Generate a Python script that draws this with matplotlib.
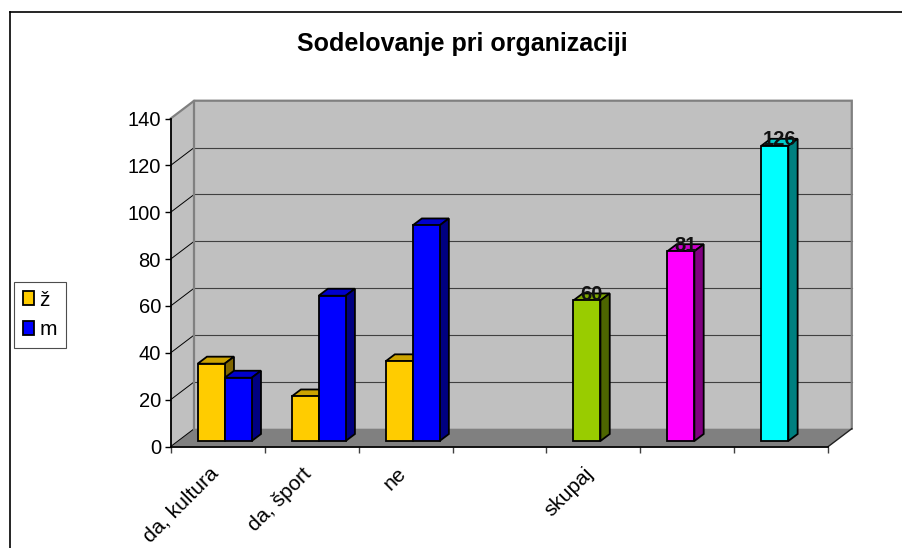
import matplotlib
matplotlib.use("Agg")
from matplotlib import pyplot as plt
from matplotlib.patches import Polygon
from matplotlib.lines import Line2D

# data
categories = ["da, kultura", "da, šport", "ne", "", "skupaj", "", ""]
zenske = [33, 19, 34]
moski = [27, 62, 92]
skupaj = [60, 81, 126]
skupaj_pos = [4, 5, 6]
skupaj_colors = ["#99CC00", "#FF00FF", "#00FFFF"]
yticks = [0, 20, 40, 60, 80, 100, 120, 140]

plt.rcParams["font.family"] = ["Liberation Sans", "DejaVu Sans"]

W, H = 902, 548
fig = plt.figure(figsize=(W / 100, H / 100), dpi=100)

# axes placed so that x 0..7 and y 0..140 land on the reference pixels
x0, x7 = 170.7, 828.3
y0, y140 = 446.5, 118.5
ax = fig.add_axes([x0 / W, 1 - y0 / H, (x7 - x0) / W, (y0 - y140) / H])
ax.set_xlim(0, 7)
ax.set_ylim(0, 140)
ax.patch.set_visible(False)

pxx = (x7 - x0) / 7
pxy = (y0 - y140) / 140
DX, DY = 23.5 / pxx, 17.8 / pxy          # depth of walls / floor
BDX, BDY = 9.3 / pxx, 7.0 / pxy          # depth of one bar
base = 5.5 / pxy                         # bar front bottom above floor edge
bw = 0.2875
n = len(categories)

wall = "#C0C0C0"
edge = "#808080"

# back wall, side wall and floor
ax.add_patch(Polygon([(DX, DY), (n + DX, DY), (n + DX, 140 + DY), (DX, 140 + DY)],
                     closed=True, fc=wall, ec="none", zorder=0.5, clip_on=False))
ax.add_patch(Polygon([(0, 0), (DX, DY), (DX, 140 + DY), (0, 140)],
                     closed=True, fc=wall, ec="none", zorder=0.5, clip_on=False))
ax.add_patch(Polygon([(0, 0), (n, 0), (n + DX, DY), (DX, DY)],
                     closed=True, fc="#808080", ec="none", zorder=0.6, clip_on=False))

for v in yticks[1:-1]:
    ax.plot([DX, n + DX], [v + DY, v + DY], color="#404040", lw=0.8, zorder=0.7, clip_on=False)
for v in yticks[:-1]:
    ax.plot([0, DX], [v, v + DY], color="black", lw=0.7, zorder=0.7, clip_on=False)

# wall outlines
ax.plot([0, DX, n + DX, n + DX], [140, 140 + DY, 140 + DY, DY], color=edge, lw=1.6,
        zorder=0.8, clip_on=False, solid_joinstyle="miter")
ax.plot([DX, DX], [DY, 140 + DY], color=edge, lw=1.6, zorder=0.8, clip_on=False)
ax.plot([n, n + DX], [0, DY], color="#202020", lw=1.0, zorder=0.8, clip_on=False)


def shade(c, f):
    r, g, b = matplotlib.colors.to_rgb(c)
    return (r * f, g * f, b * f)


def bar3d(x, v, color, z):
    top = base + v
    ax.add_patch(Polygon([(x, top), (x + bw, top), (x + bw + BDX, top + BDY), (x + BDX, top + BDY)],
                         closed=True, fc=shade(color, 0.8), ec="black", lw=1.3,
                         zorder=z, clip_on=False, joinstyle="miter"))
    ax.add_patch(Polygon([(x + bw, base), (x + bw + BDX, base + BDY), (x + bw + BDX, top + BDY), (x + bw, top)],
                         closed=True, fc=shade(color, 0.5), ec="black", lw=1.3,
                         zorder=z, clip_on=False, joinstyle="miter"))


zpos = [i + 0.287 for i in range(len(zenske))]
mpos = [i + 0.287 + bw for i in range(len(moski))]

z = 3
for i in range(len(zenske)):
    bar3d(zpos[i], zenske[i], "#FFCC00", z)
    bar3d(mpos[i], moski[i], "#0000FF", z + 2)
    z += 4

bars_z = ax.bar(zpos, zenske, bw, bottom=base, align="edge", color="#FFCC00",
                edgecolor="black", linewidth=1.3, label="ž", clip_on=False)
bars_m = ax.bar(mpos, moski, bw, bottom=base, align="edge", color="#0000FF",
                edgecolor="black", linewidth=1.3, label="m", clip_on=False)
# keep ž bars below the m bar of the same group
for i, b in enumerate(bars_z):
    b.set_zorder(3 + 4 * i + 0.5)
for i, b in enumerate(bars_m):
    b.set_zorder(5 + 4 * i + 0.5)

spos = [p + 0.287 for p in skupaj_pos]
for i in range(len(skupaj)):
    bar3d(spos[i], skupaj[i], skupaj_colors[i], 20 + i)
ax.bar(spos, skupaj, bw, bottom=base, align="edge", color=skupaj_colors,
       edgecolor="black", linewidth=1.3, zorder=23, clip_on=False)
for i in range(len(skupaj)):
    ax.text(spos[i] + bw / 2 + BDX / 2, base + skupaj[i] + 0.3, str(skupaj[i]),
            ha="center", va="baseline", fontsize=14.5, fontweight="bold",
            color="#111111", zorder=30)

# axes lines and ticks
for s in ["top", "right"]:
    ax.spines[s].set_visible(False)
ax.spines["left"].set_linewidth(1.3)
ax.spines["bottom"].set_linewidth(1.3)
ax.set_yticks(yticks)
ax.set_yticklabels([str(v) for v in yticks], fontsize=14.5)
ax.tick_params(axis="y", direction="out", length=4.5, width=1.0, pad=2.5)
ax.set_xticks(range(n + 1))
ax.set_xticklabels([""] * (n + 1))
ax.tick_params(axis="x", direction="out", length=4.5, width=1.0, color="#404040")

for i, lab in enumerate(categories):
    if lab:
        ax.annotate(lab, xy=(i + 0.5, 0), xycoords="data",
                    xytext=(-9.5 * 0.72, -17.5 * 0.72), textcoords="offset points",
                    rotation=45, ha="right", va="top", rotation_mode="anchor", fontsize=15)

fig.text(462 / W, 1 - 50.7 / H, "Sodelovanje pri organizaciji", ha="center",
         va="baseline", fontsize=18, fontweight="bold")

leg = fig.legend(handles=[bars_z, bars_m], labels=["ž", "m"], loc="upper left",
                 bbox_to_anchor=(14 / W, 1 - 282 / H), fancybox=False, edgecolor="#202020",
                 fontsize=15, handlelength=0.55, handleheight=0.65, handletextpad=0.25,
                 borderpad=0.42, labelspacing=0.5, borderaxespad=0)
leg.get_frame().set_linewidth(0.8)

# outer chart frame (cut by the image edge on the right and bottom)
fig.add_artist(Line2D([9.5 / W, 9.5 / W], [0, 1 - 11.5 / H], color="black", lw=1.2))
fig.add_artist(Line2D([9.5 / W, 1], [1 - 11.5 / H, 1 - 11.5 / H], color="black", lw=1.2))

fig.savefig("out.png", dpi=100)
